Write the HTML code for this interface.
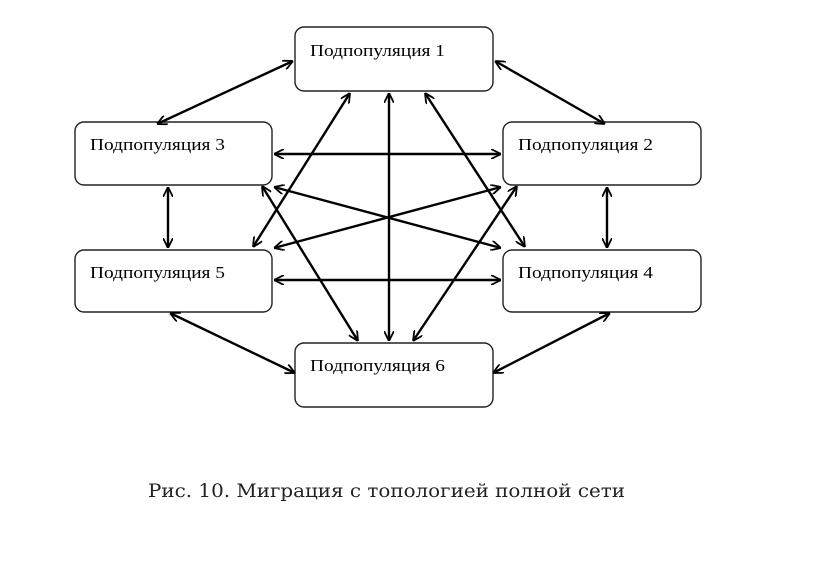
<!DOCTYPE html>
<html><head><meta charset="utf-8"><style>
body{margin:0;background:#fff;width:813px;height:566px;overflow:hidden}
svg{position:absolute;left:0;top:0}
</style></head><body>
<svg width="813" height="566" xmlns="http://www.w3.org/2000/svg">
<defs><marker id="a" viewBox="0 0 10 10" refX="10" refY="5" markerWidth="10" markerHeight="10" orient="auto-start-reverse" markerUnits="userSpaceOnUse"><path d="M0,0 L10,5 L0,10" fill="none" stroke="#000" stroke-width="1.8"/></marker></defs>
<g fill="#fff" stroke="#222" stroke-width="1.4">
<rect x="295" y="27" width="198" height="64" rx="9"/>
<rect x="75" y="122" width="197" height="63" rx="9"/>
<rect x="503" y="122" width="198" height="63" rx="9"/>
<rect x="75" y="250" width="197" height="62" rx="9"/>
<rect x="503" y="250" width="198" height="62" rx="9"/>
<rect x="295" y="343" width="198" height="64" rx="9"/>
</g>
<g stroke="#000" stroke-width="2.4" marker-start="url(#a)" marker-end="url(#a)">
<line x1="293" y1="61" x2="157" y2="124"/>
<line x1="495" y1="61" x2="605" y2="124"/>
<line x1="274" y1="154" x2="501" y2="154"/>
<line x1="274" y1="280" x2="501" y2="280"/>
<line x1="168" y1="187" x2="168" y2="248"/>
<line x1="607" y1="187" x2="607" y2="248"/>
<line x1="170" y1="313" x2="295" y2="373"/>
<line x1="493" y1="373" x2="610" y2="313"/>
<line x1="389" y1="93" x2="389" y2="341"/>
<line x1="350" y1="93" x2="253" y2="247"/>
<line x1="425" y1="93" x2="525" y2="247"/>
<line x1="358" y1="341" x2="262" y2="186"/>
<line x1="413" y1="341" x2="517" y2="186"/>
<line x1="274" y1="187" x2="501" y2="248"/>
<line x1="501" y1="187" x2="274" y2="248"/>
</g>
<g font-family="Liberation Serif, serif" font-size="17" fill="#000">
<text x="310" y="56" textLength="135" lengthAdjust="spacingAndGlyphs">Подпопуляция 1</text>
<text x="90" y="150" textLength="135" lengthAdjust="spacingAndGlyphs">Подпопуляция 3</text>
<text x="518" y="150" textLength="135" lengthAdjust="spacingAndGlyphs">Подпопуляция 2</text>
<text x="90" y="278" textLength="135" lengthAdjust="spacingAndGlyphs">Подпопуляция 5</text>
<text x="518" y="278" textLength="135" lengthAdjust="spacingAndGlyphs">Подпопуляция 4</text>
<text x="310" y="371" textLength="135" lengthAdjust="spacingAndGlyphs">Подпопуляция 6</text>
</g>
<text x="148" y="497" font-family="DejaVu Serif, serif" font-size="19" fill="#222" textLength="477" lengthAdjust="spacingAndGlyphs">Рис. 10. Миграция с топологией полной сети</text>
</svg>
</body></html>
